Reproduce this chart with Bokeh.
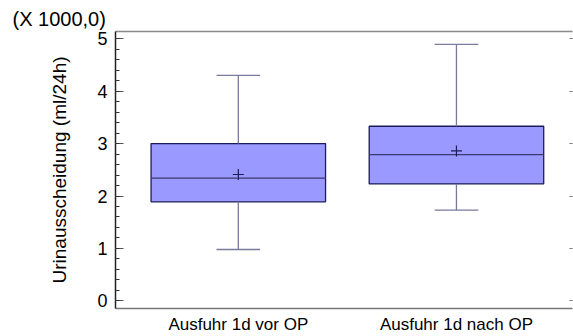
from bokeh.plotting import figure
from bokeh.models import Range1d, LinearAxis, FixedTicker, SingleIntervalTicker, CustomJSTickFormatter
from bokeh.embed import file_html
from bokeh.resources import INLINE

# ---- data (values in units of 1000 ml/24h) ----
groups = ["Ausfuhr 1d vor OP", "Ausfuhr 1d nach OP"]
positions = [1, 2]
q1 = [1.89, 2.23]
median = [2.34, 2.79]
q3 = [3.00, 3.33]
whisker_low = [0.98, 1.73]
whisker_high = [4.30, 4.89]
mean = [2.41, 2.86]
y_tick_values = [0, 1, 2, 3, 4, 5]
scale_note = "(X 1000,0)"
y_label = "Urinausscheidung (ml/24h)"

FONT = "Liberation Sans"
BOX_W = 0.8
CAP_W = 0.2

p = figure(frame_width=457, frame_height=277,
           min_border_left=115, min_border_right=1,
           min_border_top=31, min_border_bottom=28,
           x_range=Range1d(0.437, 2.532), y_range=Range1d(-0.145, 5.137),
           output_backend="svg", toolbar_location=None,
           title=scale_note,
           x_axis_location="below", y_axis_location="left")
p.outline_line_color = None
p.grid.visible = False
p.background_fill_color = "white"
p.border_fill_color = "white"

p.title.align = "left"
p.title.offset = -103
p.title.standoff = 3
p.title.text_font = FONT
p.title.text_font_size = "20px"
p.title.text_font_style = "normal"
p.title.text_color = "black"

# boxes
p.vbar(x=positions, width=BOX_W, bottom=q1, top=q3,
       fill_color="#9999ff", line_color="#1c1c5a", line_width=1.3)
# median lines
p.segment(x0=[x - BOX_W / 2 for x in positions], x1=[x + BOX_W / 2 for x in positions],
          y0=median, y1=median, line_color="#3a3a70", line_width=1.3)
# whiskers
p.segment(x0=positions, x1=positions, y0=q3, y1=whisker_high,
          line_color="#7a7a9c", line_width=1.3)
p.segment(x0=positions, x1=positions, y0=whisker_low, y1=q1,
          line_color="#7a7a9c", line_width=1.3)
# caps
p.segment(x0=[x - CAP_W / 2 for x in positions], x1=[x + CAP_W / 2 for x in positions],
          y0=whisker_high, y1=whisker_high, line_color="#7a7a9c", line_width=1.3)
p.segment(x0=[x - CAP_W / 2 for x in positions], x1=[x + CAP_W / 2 for x in positions],
          y0=whisker_low, y1=whisker_low, line_color="#7a7a9c", line_width=1.3)
# means
p.scatter(x=positions, y=mean, marker="cross", size=11,
          line_color="#1c1c5a", line_width=1.2)

# x axis
xa = p.xaxis[0]
xa.ticker = FixedTicker(ticks=positions)
xa.major_label_overrides = {pos: g for pos, g in zip(positions, groups)}
xa.major_tick_in = 0
xa.major_tick_out = 0
xa.minor_tick_line_color = None
xa.axis_line_color = "#777777"
xa.axis_line_width = 1.5
xa.major_label_standoff = 6
xa.major_label_text_font = FONT
xa.major_label_text_font_size = "17px"
xa.major_label_text_color = "black"

# y axis (left)
ya = p.yaxis[0]
ya.ticker = SingleIntervalTicker(interval=1, num_minor_ticks=5)
ya.major_tick_in = 8
ya.major_tick_out = 0
ya.minor_tick_in = 4
ya.minor_tick_out = 0
ya.major_tick_line_color = "#555555"
ya.minor_tick_line_color = "#333333"
ya.axis_line_color = "#222222"
ya.axis_line_width = 1.5
ya.major_label_standoff = 8
ya.major_label_text_font = FONT
ya.major_label_text_font_size = "18px"
ya.major_label_text_color = "black"
ya.axis_label = y_label
ya.axis_label_text_font = FONT
ya.axis_label_text_font_size = "19px"
ya.axis_label_text_font_style = "normal"
ya.axis_label_text_color = "black"
ya.axis_label_standoff = 24

# right axis: only short inward major ticks
ra = LinearAxis(ticker=FixedTicker(ticks=y_tick_values),
                formatter=CustomJSTickFormatter(code="return ''"))
ra.axis_line_color = None
ra.major_tick_in = 3
ra.major_tick_out = 0
ra.minor_tick_line_color = None
ra.major_tick_line_color = "#777777"
ra.major_label_standoff = 0
p.add_layout(ra, "right")

# top axis: only the frame line
ta = LinearAxis(ticker=FixedTicker(ticks=[]))
ta.axis_line_color = "#888888"
ta.axis_line_width = 1.5
ta.major_tick_line_color = None
ta.minor_tick_line_color = None
ta.major_label_standoff = 0
p.add_layout(ta, "above")

open("out.html", "w").write(file_html(p, INLINE))
